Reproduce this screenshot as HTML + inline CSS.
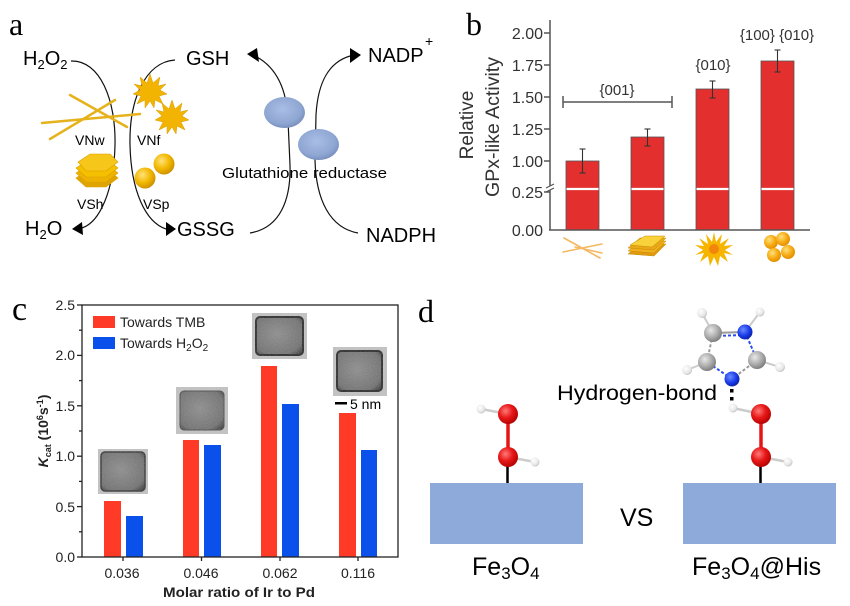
<!DOCTYPE html>
<html><head><meta charset="utf-8"><style>
html,body{margin:0;padding:0;background:#fff;}
svg{display:block;font-family:"Liberation Sans",Arial,sans-serif;}
</style></head><body>
<svg width="850" height="606" viewBox="0 0 850 606" xmlns="http://www.w3.org/2000/svg">
<defs>
<radialGradient id="gold" cx="0.38" cy="0.35" r="0.7"><stop offset="0" stop-color="#ffe27a"/><stop offset="0.55" stop-color="#f2b800"/><stop offset="1" stop-color="#c98c00"/></radialGradient>
<radialGradient id="orng" cx="0.38" cy="0.35" r="0.7"><stop offset="0" stop-color="#ffe07a"/><stop offset="0.6" stop-color="#f5a810"/><stop offset="1" stop-color="#e08a00"/></radialGradient>
<radialGradient id="enz" cx="0.45" cy="0.4" r="0.65"><stop offset="0" stop-color="#a9bee6"/><stop offset="0.7" stop-color="#8ea6d2"/><stop offset="1" stop-color="#7389b8"/></radialGradient>
<radialGradient id="oxy" cx="0.38" cy="0.35" r="0.7"><stop offset="0" stop-color="#ff7a7a"/><stop offset="0.5" stop-color="#e81818"/><stop offset="1" stop-color="#b00000"/></radialGradient>
<radialGradient id="hyd" cx="0.38" cy="0.35" r="0.7"><stop offset="0" stop-color="#ffffff"/><stop offset="0.7" stop-color="#e6e6e6"/><stop offset="1" stop-color="#b8b8b8"/></radialGradient>
<radialGradient id="carb" cx="0.38" cy="0.35" r="0.7"><stop offset="0" stop-color="#e8e8e8"/><stop offset="0.6" stop-color="#a8a8a8"/><stop offset="1" stop-color="#787878"/></radialGradient>
<radialGradient id="nit" cx="0.38" cy="0.35" r="0.7"><stop offset="0" stop-color="#6a8cff"/><stop offset="0.6" stop-color="#1a3ae8"/><stop offset="1" stop-color="#0a1fa0"/></radialGradient>
<radialGradient id="tem" cx="0.45" cy="0.45" r="0.7"><stop offset="0" stop-color="#8a8a8a"/><stop offset="0.8" stop-color="#6c6c6c"/><stop offset="1" stop-color="#3a3a3a"/></radialGradient>
<filter id="grain" x="0" y="0" width="1" height="1"><feTurbulence type="fractalNoise" baseFrequency="0.9" numOctaves="2" seed="3"/><feColorMatrix type="matrix" values="0 0 0 0 0.5  0 0 0 0 0.5  0 0 0 0 0.5  0 0 0 0.35 0"/><feComposite in2="SourceGraphic" operator="in"/></filter>
</defs>

<!-- ================= Panel a ================= -->
<text x="9" y="35" font-family="Liberation Serif,serif" font-size="32">a</text>
<g font-size="20" fill="#000">
<text x="23" y="65">H<tspan font-size="13" dy="4">2</tspan><tspan dy="-4">O</tspan><tspan font-size="13" dy="4">2</tspan></text>
<text x="25" y="235">H<tspan font-size="13" dy="4">2</tspan><tspan dy="-4">O</tspan></text>
<text x="186" y="65">GSH</text>
<text x="177" y="236">GSSG</text>
<text x="368" y="62">NADP</text>
<text x="425" y="46" font-size="14">+</text>
<text x="366" y="242">NADPH</text>
</g>
<g fill="none" stroke="#111" stroke-width="1.2">
<path d="M71,61 C100,60 116,100 115,145 C114,190 100,222 82,228"/>
<path d="M175,60 C145,62 129,100 130,145 C131,190 145,222 166,229"/>
<path d="M250,233 C280,228 291,200 290,165 L288,120 C287,95 280,70 257,57"/>
<path d="M358,233 C330,228 316,200 315,160 L316,115 C318,80 330,62 350,56"/>
</g>
<g fill="#000">
<polygon points="72,229 82,222 83,235"/>
<polygon points="176,229 166,222 166,236"/>
<polygon points="247,54 257,48 259,62"/>
<polygon points="361,55 350,48 350,63"/>
</g>
<!-- nanowires -->
<g stroke="#e6b21c" stroke-width="2.5" stroke-linecap="round">
<line x1="70" y1="95" x2="127" y2="127"/>
<line x1="42" y1="123" x2="140" y2="114"/>
<line x1="50" y1="139" x2="115" y2="100"/>
</g>
<!-- stars -->
<polygon fill="#f2b400" stroke="#d99a00" stroke-width="0.5" points="150,74 153,83 160,77 158,86 166,84 160,90 167,94 159,96 163,104 155,100 154,108 150,101 145,108 145,100 137,104 141,96 133,94 140,90 134,84 142,86 140,77 147,83"/>
<polygon fill="#f2b400" stroke="#d99a00" stroke-width="0.5" points="172,100 175,109 182,103 180,112 188,110 182,116 189,120 181,122 185,130 177,126 176,134 172,127 167,134 167,126 159,130 163,122 155,120 162,116 156,110 164,112 162,103 169,109"/>
<!-- hexagon stack -->
<g stroke="#d9a000" stroke-width="0.6">
<polygon fill="#e0a400" points="76,178 88,170 108,170 118,178 106,187 86,187"/>
<polygon fill="#eeb300" points="76,173 88,165 108,165 118,173 106,182 86,182"/>
<polygon fill="#f5c000" points="76,168 88,160 108,160 118,168 106,177 86,177"/>
<polygon fill="#f7c61a" points="78,162 90,154 110,154 118,162 106,171 86,171"/>
</g>
<circle cx="164" cy="164" r="10.5" fill="url(#gold)"/>
<circle cx="145" cy="178" r="10.5" fill="url(#gold)"/>
<g font-size="14" fill="#000">
<text x="75" y="145">VNw</text>
<text x="137" y="145">VNf</text>
<text x="77" y="209">VSh</text>
<text x="143" y="209">VSp</text>
</g>
<ellipse cx="284.5" cy="112.5" rx="20.5" ry="15.5" fill="url(#enz)"/>
<ellipse cx="318.5" cy="144.5" rx="20.5" ry="15.5" fill="url(#enz)"/>
<text x="222" y="178" font-size="15" textLength="165" lengthAdjust="spacingAndGlyphs">Glutathione reductase</text>

<!-- ================= Panel b ================= -->
<text x="466" y="35" font-family="Liberation Serif,serif" font-size="32">b</text>
<g fill="#e3302e" stroke="#555" stroke-width="0.8">
<rect x="566" y="161" width="33" height="69"/>
<rect x="631" y="137" width="33" height="93"/>
<rect x="696" y="89" width="33" height="141"/>
<rect x="761" y="61" width="33" height="169"/>
</g>
<g stroke="#fff" stroke-width="2.2">
<line x1="566.5" y1="189" x2="598.5" y2="189"/>
<line x1="631.5" y1="189" x2="663.5" y2="189"/>
<line x1="696.5" y1="189" x2="728.5" y2="189"/>
<line x1="761.5" y1="189" x2="793.5" y2="189"/>
</g>
<g stroke="#333" stroke-width="1.1">
<line x1="582.5" y1="149" x2="582.5" y2="173"/><line x1="579.5" y1="149" x2="585.5" y2="149"/><line x1="579.5" y1="173" x2="585.5" y2="173"/>
<line x1="647.5" y1="129" x2="647.5" y2="146"/><line x1="644.5" y1="129" x2="650.5" y2="129"/><line x1="644.5" y1="146" x2="650.5" y2="146"/>
<line x1="712.5" y1="81" x2="712.5" y2="98"/><line x1="709.5" y1="81" x2="715.5" y2="81"/><line x1="709.5" y1="98" x2="715.5" y2="98"/>
<line x1="777.5" y1="50" x2="777.5" y2="72"/><line x1="774.5" y1="50" x2="780.5" y2="50"/><line x1="774.5" y1="72" x2="780.5" y2="72"/>
</g>
<g stroke="#555" stroke-width="1.5" fill="none">
<line x1="550" y1="20" x2="550" y2="230"/>
<line x1="549" y1="230" x2="810" y2="230"/>
<line x1="544" y1="33" x2="550" y2="33"/>
<line x1="544" y1="65" x2="550" y2="65"/>
<line x1="544" y1="97" x2="550" y2="97"/>
<line x1="544" y1="129" x2="550" y2="129"/>
<line x1="544" y1="161" x2="550" y2="161"/>
<line x1="544" y1="192" x2="550" y2="192"/>
<line x1="563" y1="102" x2="672" y2="102"/>
<line x1="563" y1="96" x2="563" y2="108"/>
<line x1="672" y1="96" x2="672" y2="108"/>
</g>
<rect x="546" y="186" width="8" height="4" fill="#fff"/>
<g stroke="#555" stroke-width="1.2"><line x1="546" y1="188" x2="554" y2="184"/><line x1="546" y1="192" x2="554" y2="188"/></g>
<g font-size="16" fill="#333" text-anchor="end">
<text x="543" y="39">2.00</text>
<text x="543" y="71">1.75</text>
<text x="543" y="103">1.50</text>
<text x="543" y="135">1.25</text>
<text x="543" y="167">1.00</text>
<text x="543" y="198">0.25</text>
<text x="543" y="236">0.00</text>
</g>
<g font-size="19" fill="#333" text-anchor="middle">
<text transform="translate(473,125) rotate(-90)">Relative</text>
<text transform="translate(499,127) rotate(-90)" textLength="140" lengthAdjust="spacingAndGlyphs">GPx-like Activity</text>
</g>
<g font-size="15" fill="#333" text-anchor="middle">
<text x="617" y="95">{001}</text>
<text x="713" y="70">{010}</text>
<text x="777" y="40">{100} {010}</text>
</g>
<!-- b icons -->
<g stroke="#f4b860" stroke-width="1.6" stroke-linecap="round">
<line x1="564" y1="238" x2="600" y2="258"/>
<line x1="563" y1="252" x2="602" y2="244"/>
<line x1="575" y1="247" x2="602" y2="253"/>
</g>
<g stroke="#c98a00" stroke-width="0.5">
<polygon fill="#e09a10" points="628,254 640,244 666,244 654,256"/>
<polygon fill="#f0b020" points="628,251 640,241 666,241 654,253"/>
<polygon fill="#e8a818" points="628,248 640,238 666,238 654,250"/>
<polygon fill="#f9d23a" points="630,245 645,236 665,236 652,247"/>
</g>
<polygon fill="#f7b500" points="714,232 716,242 722,234 720,244 729,238 724,246 733,245 725,250 733,255 724,253 728,262 720,256 718,266 714,257 710,266 708,256 700,262 704,253 695,255 703,250 695,245 704,246 699,238 708,244 706,234 712,242"/>
<circle cx="714" cy="249" r="5" fill="#f07010" opacity="0.7"/>
<circle cx="771" cy="242" r="7" fill="url(#orng)"/>
<circle cx="783" cy="239" r="7" fill="url(#orng)"/>
<circle cx="774" cy="255" r="7" fill="url(#orng)"/>
<circle cx="788" cy="252" r="7" fill="url(#orng)"/>

<!-- ================= Panel c ================= -->
<text x="12" y="320" font-family="Liberation Serif,serif" font-size="34">c</text>
<!-- bars -->
<g fill="#ff3a26">
<rect x="104" y="501" width="17" height="56"/>
<rect x="183" y="440" width="16" height="117"/>
<rect x="261" y="366" width="16" height="191"/>
<rect x="339" y="413" width="17" height="144"/>
</g>
<g fill="#0a50ea">
<rect x="126" y="516" width="17" height="41"/>
<rect x="204" y="445" width="17" height="112"/>
<rect x="282" y="404" width="17" height="153"/>
<rect x="361" y="450" width="16" height="107"/>
</g>
<!-- TEM images -->
<g>
<rect x="98" y="449" width="50" height="45" fill="#c4c4c4"/>
<rect x="101" y="452" width="44" height="39" rx="4" fill="url(#tem)" stroke="#2e2e2e" stroke-width="1.5"/>
<rect x="176" y="387" width="52" height="47" fill="#c4c4c4"/>
<rect x="180" y="391" width="44" height="39" rx="4" fill="url(#tem)" stroke="#444" stroke-width="1"/>
<rect x="252" y="313" width="55" height="46" fill="#c4c4c4"/>
<rect x="256" y="317" width="47" height="38" rx="4" fill="url(#tem)" stroke="#222" stroke-width="2"/>
<rect x="333" y="347" width="54" height="49" fill="#c4c4c4"/>
<rect x="337" y="351" width="45" height="40" rx="4" fill="url(#tem)" stroke="#222" stroke-width="2"/>
<g filter="url(#grain)">
<rect x="98" y="449" width="50" height="45" fill="#888"/>
<rect x="176" y="387" width="52" height="47" fill="#888"/>
<rect x="252" y="313" width="55" height="46" fill="#888"/>
<rect x="333" y="347" width="54" height="49" fill="#888"/>
</g>
</g>
<rect x="335" y="402" width="12" height="2.5" fill="#000"/>
<text x="350" y="409" font-size="14">5 nm</text>
<!-- axes -->
<g stroke="#222" stroke-width="1.3" fill="none">
<rect x="82" y="305" width="316" height="252"/>
<line x1="77" y1="305" x2="82" y2="305"/>
<line x1="79" y1="330.2" x2="82" y2="330.2"/>
<line x1="77" y1="355.4" x2="82" y2="355.4"/>
<line x1="79" y1="380.6" x2="82" y2="380.6"/>
<line x1="77" y1="405.8" x2="82" y2="405.8"/>
<line x1="79" y1="431" x2="82" y2="431"/>
<line x1="77" y1="456.2" x2="82" y2="456.2"/>
<line x1="79" y1="481.4" x2="82" y2="481.4"/>
<line x1="77" y1="506.6" x2="82" y2="506.6"/>
<line x1="79" y1="531.8" x2="82" y2="531.8"/>
<line x1="77" y1="557" x2="82" y2="557"/>
<line x1="123" y1="557" x2="123" y2="561"/>
<line x1="201.5" y1="557" x2="201.5" y2="561"/>
<line x1="280" y1="557" x2="280" y2="561"/>
<line x1="358" y1="557" x2="358" y2="561"/>
</g>
<g font-size="14" fill="#222" text-anchor="end">
<text x="75" y="310">2.5</text>
<text x="75" y="360">2.0</text>
<text x="75" y="411">1.5</text>
<text x="75" y="461">1.0</text>
<text x="75" y="512">0.5</text>
<text x="75" y="562">0.0</text>
</g>
<g font-size="14" fill="#222" text-anchor="middle">
<text x="122" y="578">0.036</text>
<text x="201" y="578">0.046</text>
<text x="280" y="578">0.062</text>
<text x="358" y="578">0.116</text>
</g>
<text x="163" y="597" font-size="14" font-weight="bold" fill="#222" textLength="152" lengthAdjust="spacingAndGlyphs">Molar ratio of Ir to Pd</text>
<text transform="translate(48,431) rotate(-90)" text-anchor="middle" font-size="14" font-weight="bold" fill="#222"><tspan font-style="italic">K</tspan><tspan font-size="9" dy="3">cat</tspan><tspan dy="-3"> (10</tspan><tspan font-size="9" dy="-5">6</tspan><tspan dy="5">s</tspan><tspan font-size="9" dy="-5">-1</tspan><tspan dy="5">)</tspan></text>
<!-- legend -->
<rect x="93" y="316" width="22" height="12" fill="#ff3a26"/>
<rect x="93" y="337" width="22" height="12" fill="#0a50ea"/>
<text x="120" y="327" font-size="14" fill="#222">Towards TMB</text>
<text x="120" y="348" font-size="14" fill="#222">Towards H<tspan font-size="10" dy="3">2</tspan><tspan dy="-3">O</tspan><tspan font-size="10" dy="3">2</tspan></text>

<!-- ================= Panel d ================= -->
<text x="418" y="322" font-family="Liberation Serif,serif" font-size="32">d</text>
<rect x="430" y="483" width="153" height="61" fill="#8eaadb"/>
<rect x="683" y="483" width="153" height="61" fill="#8eaadb"/>
<text x="620" y="526" font-size="25">VS</text>
<text x="472" y="575" font-size="25">Fe<tspan font-size="17" dy="4">3</tspan><tspan dy="-4">O</tspan><tspan font-size="17" dy="4">4</tspan></text>
<text x="692" y="575" font-size="25">Fe<tspan font-size="17" dy="4">3</tspan><tspan dy="-4">O</tspan><tspan font-size="17" dy="4">4</tspan><tspan dy="-4">@His</tspan></text>
<text x="557" y="400" font-size="21" textLength="160" lengthAdjust="spacingAndGlyphs">Hydrogen-bond</text>
<rect x="730" y="389" width="3.5" height="3.5" fill="#000"/>
<rect x="730" y="397" width="3.5" height="3.5" fill="#000"/>
<!-- left molecule -->
<g>
<line x1="507.5" y1="466" x2="507.5" y2="483" stroke="#000" stroke-width="2.5"/>
<line x1="508" y1="414" x2="508" y2="457" stroke="#e51515" stroke-width="3.5"/>
<line x1="508" y1="414" x2="481" y2="409" stroke="#ccc" stroke-width="2.5"/>
<line x1="508" y1="457" x2="535" y2="462" stroke="#ccc" stroke-width="2.5"/>
<circle cx="481" cy="409" r="4.5" fill="url(#hyd)"/>
<circle cx="535" cy="462" r="4.5" fill="url(#hyd)"/>
<circle cx="508" cy="414" r="10" fill="url(#oxy)"/>
<circle cx="508" cy="457" r="10" fill="url(#oxy)"/>
</g>
<!-- right molecule -->
<g>
<line x1="760.5" y1="466" x2="760.5" y2="483" stroke="#000" stroke-width="2.5"/>
<line x1="761" y1="414" x2="761" y2="457" stroke="#e51515" stroke-width="3.5"/>
<line x1="761" y1="414" x2="733" y2="408" stroke="#ccc" stroke-width="2.5"/>
<line x1="761" y1="457" x2="788" y2="462" stroke="#ccc" stroke-width="2.5"/>
<circle cx="733" cy="408" r="4.5" fill="url(#hyd)"/>
<circle cx="788" cy="462" r="4.5" fill="url(#hyd)"/>
<circle cx="761" cy="414" r="10" fill="url(#oxy)"/>
<circle cx="761" cy="457" r="10" fill="url(#oxy)"/>
</g>
<!-- imidazole -->
<g stroke-width="2">
<line x1="713" y1="333" x2="702" y2="313" stroke="#ccc"/>
<line x1="745" y1="332" x2="760" y2="312" stroke="#ccc"/>
<line x1="707" y1="362" x2="687" y2="370" stroke="#ccc"/>
<line x1="757" y1="360" x2="780" y2="367" stroke="#ccc"/>
<line x1="713" y1="333" x2="745" y2="332" stroke="#9a9a9a"/>
<line x1="713" y1="336" x2="745" y2="335" stroke="#2a4cf0" stroke-dasharray="3,2"/>
<line x1="745" y1="332" x2="757" y2="360" stroke="#2a4cf0" stroke-dasharray="3,2"/>
<line x1="757" y1="360" x2="732" y2="379" stroke="#9a9a9a" stroke-dasharray="3,2"/>
<line x1="732" y1="379" x2="707" y2="362" stroke="#2a4cf0" stroke-dasharray="3,2"/>
<line x1="707" y1="362" x2="713" y2="333" stroke="#9a9a9a" stroke-dasharray="3,2"/>
</g>
<circle cx="702" cy="313" r="5" fill="url(#hyd)"/>
<circle cx="760" cy="312" r="4.5" fill="url(#hyd)"/>
<circle cx="687" cy="370" r="5" fill="url(#hyd)"/>
<circle cx="780" cy="367" r="5" fill="url(#hyd)"/>
<circle cx="713" cy="333" r="9" fill="url(#carb)"/>
<circle cx="707" cy="362" r="9" fill="url(#carb)"/>
<circle cx="757" cy="360" r="9" fill="url(#carb)"/>
<circle cx="745" cy="332" r="7.5" fill="url(#nit)"/>
<circle cx="732" cy="379" r="7.5" fill="url(#nit)"/>
</svg>
</body></html>
